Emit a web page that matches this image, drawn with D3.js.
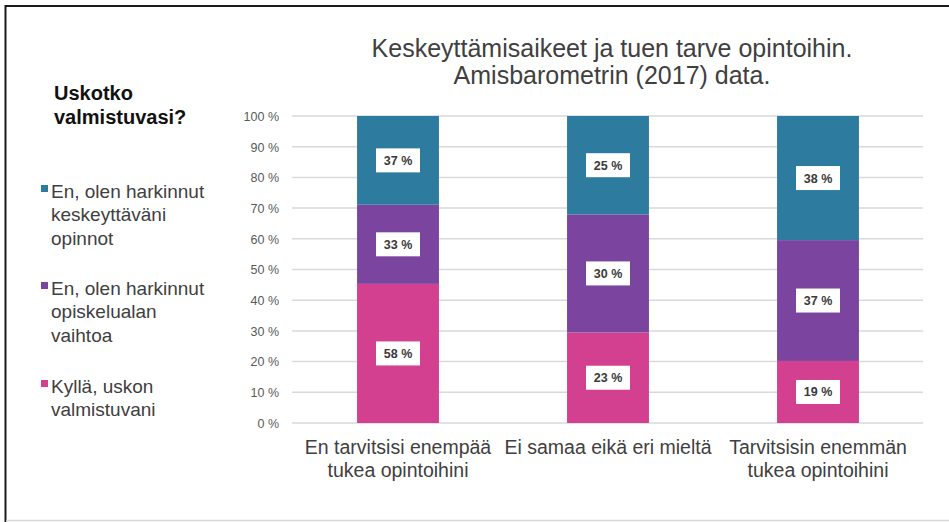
<!DOCTYPE html>
<html>
<head>
<meta charset="utf-8">
<script src="https://cdn.jsdelivr.net/npm/d3@7"></script>
<style>
  html, body { margin: 0; padding: 0; background: #fff; }
  svg { display: block; font-family: "Liberation Sans", Arial, sans-serif; }
</style>
</head>
<body>
<svg id="chart" width="949" height="522"></svg>
<script>
const categories = [
  ["En tarvitsisi enempää", "tukea opintoihini"],
  ["Ei samaa eikä eri mieltä"],
  ["Tarvitsisin enemmän", "tukea opintoihini"]
];
const seriesNames = [
  ["Kyllä, uskon", "valmistuvani"],
  ["En, olen harkinnut", "opiskelualan", "vaihtoa"],
  ["En, olen harkinnut", "keskeyttäväni", "opinnot"]
];
const seriesKeys = ["kylla", "vaihto", "keskeytys"];
const kyllaValues = [58, 23, 19];
const vaihtoValues = [33, 30, 37];
const keskeytysValues = [37, 25, 38];
const colors = ["#d3408f", "#7b449f", "#2e7ba0"];
const yTicks = [0, 0.1, 0.2, 0.3, 0.4, 0.5, 0.6, 0.7, 0.8, 0.9, 1.0];
const titleLines = ["Keskeyttämisaikeet ja tuen tarve opintoihin.", "Amisbarometrin (2017) data."];
const legendTitle = ["Uskotko", "valmistuvasi?"];

const rows = categories.map((c, i) => ({
  idx: i,
  kylla: kyllaValues[i],
  vaihto: vaihtoValues[i],
  keskeytys: keskeytysValues[i]
}));

const svg = d3.select("#chart");

// frame
svg.append("rect").attr("x", 0).attr("y", 0).attr("width", 949).attr("height", 522).attr("fill", "#fff");
svg.append("line").attr("x1", 5.5).attr("x2", 5.5).attr("y1", 5).attr("y2", 522).attr("stroke", "#1a1a1a").attr("stroke-width", 2);
svg.append("line").attr("x1", 5).attr("x2", 949).attr("y1", 6).attr("y2", 6).attr("stroke", "#1a1a1a").attr("stroke-width", 2);
svg.append("line").attr("x1", 6).attr("x2", 949).attr("y1", 520.5).attr("y2", 520.5).attr("stroke", "#d8d8d8").attr("stroke-width", 1.5);

const x = d3.scaleBand().domain(d3.range(categories.length)).range([293, 923]).paddingInner(0.61).paddingOuter(0.305);
const y = d3.scaleLinear().domain([0, 1]).range([423, 116]);

// gridlines
svg.append("g").selectAll("line").data(yTicks).join("line")
  .attr("x1", 292).attr("x2", 923)
  .attr("y1", d => y(d)).attr("y2", d => y(d))
  .attr("stroke", "#d9d9d9").attr("stroke-width", 1.5);

// y axis labels
const yAxis = d3.axisLeft(y).tickValues(yTicks).tickSize(0).tickPadding(0)
  .tickFormat(d => Math.round(d * 100) + " %");
const yg = svg.append("g").attr("transform", "translate(279,0)").call(yAxis);
yg.select(".domain").remove();
yg.selectAll("text").attr("fill", "#595959").style("font-size", "12.5px").style("font-family", "'Liberation Sans', Arial, sans-serif").attr("dy", "0.35em");

// stacks
const stack = d3.stack().keys(seriesKeys).offset(d3.stackOffsetExpand);
const stacked = stack(rows);

const layers = svg.append("g").selectAll("g").data(stacked).join("g")
  .attr("fill", (d, i) => colors[i]);
layers.selectAll("rect").data(d => d).join("rect")
  .attr("x", d => x(d.data.idx))
  .attr("width", x.bandwidth())
  .attr("y", d => y(d[1]))
  .attr("height", d => y(d[0]) - y(d[1]));

// data labels
const labelG = svg.append("g");
stacked.forEach((layer, li) => {
  layer.forEach(d => {
    const cx = x(d.data.idx) + x.bandwidth() / 2;
    const cy = y((d[0] + d[1]) / 2);
    const g = labelG.append("g").attr("transform", `translate(${cx},${cy})`);
    g.append("rect").attr("x", -22).attr("y", -12).attr("width", 44).attr("height", 24).attr("fill", "#fff");
    g.append("text").attr("text-anchor", "middle").attr("dy", "0.36em")
      .style("font-size", "12.5px").style("font-weight", "bold").attr("fill", "#3a3a3a")
      .text(d.data[layer.key] + " %");
  });
});

// x axis labels
const xg = svg.append("g");
categories.forEach((lines, i) => {
  const t = xg.append("text").attr("text-anchor", "middle")
    .attr("x", x(i) + x.bandwidth() / 2).attr("y", 454)
    .attr("fill", "#404040").style("font-size", "19.5px");
  lines.forEach((l, j) => t.append("tspan").attr("x", x(i) + x.bandwidth() / 2).attr("dy", j === 0 ? 0 : 23).text(l));
});

// title
const title = svg.append("text").attr("text-anchor", "middle").attr("fill", "#404040").style("font-size", "25px");
titleLines.forEach((l, j) => title.append("tspan").attr("x", 612).attr("y", 57 + j * 26.5).text(l));

// legend title
const lt = svg.append("text").attr("fill", "#111").style("font-size", "20px").style("font-weight", "bold");
legendTitle.forEach((l, j) => lt.append("tspan").attr("x", 54).attr("y", 100 + j * 24).text(l));

// legend
const legendOrder = [2, 1, 0];
const legendY = [198, 295, 393];
legendOrder.forEach((si, k) => {
  const g = svg.append("g");
  g.append("rect").attr("x", 41).attr("y", legendY[k] - 13).attr("width", 7).attr("height", 7).attr("fill", colors[si]);
  const t = g.append("text").attr("fill", "#404040").style("font-size", "19px");
  seriesNames[si].forEach((l, j) => t.append("tspan").attr("x", 51).attr("y", legendY[k] + j * 23.3).text(l));
});
</script>
</body>
</html>
